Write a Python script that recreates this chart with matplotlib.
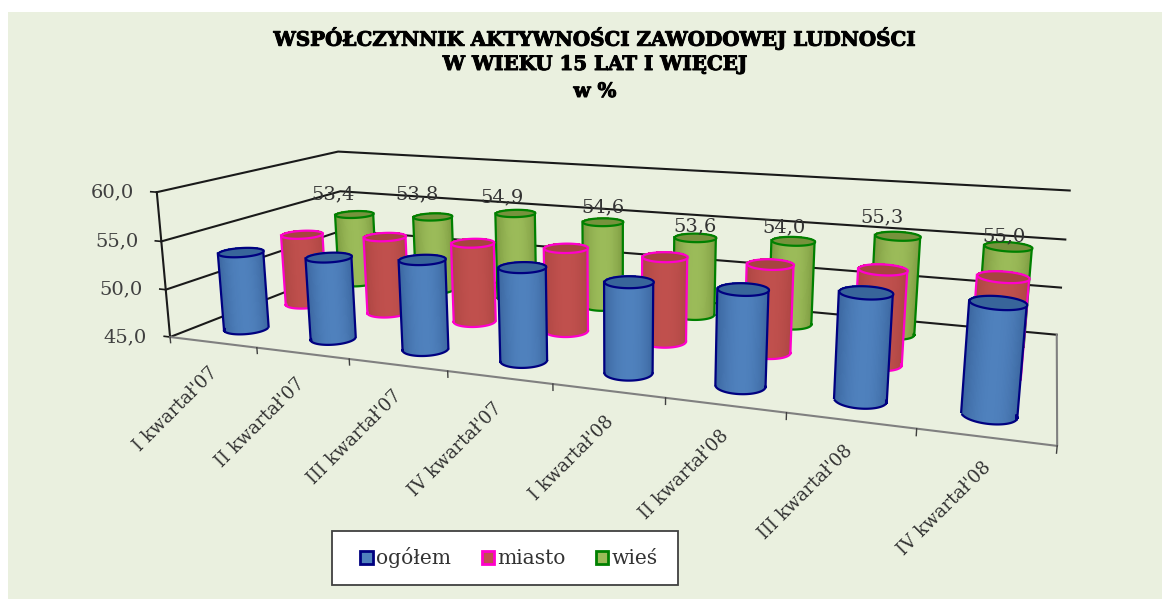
import matplotlib
matplotlib.use('Agg')
import matplotlib.pyplot as plt
import matplotlib.patheffects as pe
import numpy as np
from mpl_toolkits.mplot3d import proj3d
from mpl_toolkits.mplot3d.art3d import Poly3DCollection
from matplotlib.patches import Patch, Rectangle

categories = ["I kwartał'07", "II kwartał'07", "III kwartał'07", "IV kwartał'07",
              "I kwartał'08", "II kwartał'08", "III kwartał'08", "IV kwartał'08"]
series_names = ['ogółem', 'miasto', 'wieś']
ogolem = [53.2, 53.5, 54.1, 54.2, 53.7, 53.95, 54.6, 54.7]
miasto = [53.0, 53.5, 53.6, 53.85, 53.75, 53.85, 54.2, 54.4]
wies = [53.4, 53.8, 54.9, 54.6, 53.6, 54.0, 55.3, 55.0]
z_ticks = [45, 50, 55, 60]
# pixel nudges of the texts, the source placed them unevenly
value_dx = [-21, -15, -13, 0, 0, -9, -15, -4]
value_dy = [20, 22, 16, 14, 11, 13, 18, 10]
cat_dx = [2, -1, 1, 0, 3, 1, -1, 3]

W, H = 1162, 599
SERIF = 'DejaVu Serif'
fig = plt.figure(figsize=(W / 100, H / 100), dpi=100, facecolor='white')
fig.add_artist(Rectangle((8 / W, 0), 1, 1 - 12 / H, transform=fig.transFigure, fc='#EAF0DF', ec='none', zorder=-5))
ax = fig.add_axes([503.81 / W, 223.75 / H, 215.36 / W, 215.36 / H], projection='3d', computed_zorder=False)
ax.set_xlim(0, 8)
ax.set_ylim(0, 3)
ax.set_zlim(45, 60)
ax.set_proj_type('persp', focal_length=1)
ax.view_init(elev=13.2113, azim=-69.7426, roll=0.0441)
ax.set_box_aspect((1, 0.3762, 0.1763), zoom=4.11)
ax.set_axis_off()
ax.patch.set_visible(False)
M = ax.get_proj()


def line(xs, ys, zs, color='#1a1a1a', lw=1.5, z=1):
    ax.plot(xs, ys, zs, color=color, lw=lw, zorder=z, clip_on=False)


def label(x, y, z, s, dx, dy, **kw):
    u, v, _ = proj3d.proj_transform(x, y, z, M)
    ax.annotate(s, (u, v), xytext=(dx, dy), textcoords='offset pixels', annotation_clip=False, family=SERIF, **kw)


for v in z_ticks:
    line([0, 0, 8], [0, 3, 3], [v, v, v])
    line([0, -0.07], [0, 0], [v, v], lw=1.2)
    label(0, 0, v, f'{v:.1f}'.replace('.', ','), -23, 0, ha='right', va='center', fontsize=14, color='#404040')
line([0, 0], [0, 0], [45, 60])
line([0, 8, 8], [0, 0, 3], [45, 45, 45], color='#808080')
for k in range(9):
    line([k, k], [0, 0], [45, 44.4], color='#404040', lw=1)
for k, lab in enumerate(categories):
    label(k + 0.5, 0, 45, lab, cat_dx[k], -28, rotation=45, ha='right', va='center', rotation_mode='anchor', fontsize=13.1, color='#333333')

radius = 0.21
edge_w = 1.6
theta = np.linspace(0, 2 * np.pi, 121)
styles = [('#4F81BD', '#3A659E', '#000080', '#38659A'), ('#C0504D', '#AC4542', '#FF00CC', '#A64440'), ('#9BBB59', '#7B983F', '#008000', '#76923C')]
for j in (2, 1, 0):
    vals = [ogolem, miasto, wies][j]
    mid, dark, edge, cap = styles[j]
    midc = np.array(matplotlib.colors.to_rgb(mid))
    darkc = np.array(matplotlib.colors.to_rgb(dark))
    for i, val in enumerate(vals):
        zo = 10 + (2 - j) * 10 + i
        cxs = i + 0.5 + radius * np.cos(theta)
        cys = j + 0.5 + radius * np.sin(theta)
        base = np.full_like(cxs, 45.0)
        top = np.full_like(cxs, val)
        u, vv, _ = proj3d.proj_transform(cxs, cys, base, M)
        u = np.asarray(u)
        vv = np.asarray(vv)
        ut = np.asarray(proj3d.proj_transform(cxs, cys, top, M)[0])
        tt = (u - u.min()) / (u.max() - u.min())
        w = np.abs(2 * tt[:-1] - 1) ** 2
        cols = midc[None, :] * (1 - w[:, None]) + darkc[None, :] * w[:, None]
        ax.plot_surface(np.vstack([cxs, cxs]), np.vstack([cys, cys]), np.vstack([base, top]),
                        facecolors=cols[None, :, :], shade=False, rstride=1, cstride=1, linewidth=0,
                        antialiased=False, zorder=zo, clip_on=False)
        a, b = np.argmin(u), np.argmax(u)
        a2, b2 = np.argmin(ut), np.argmax(ut)
        # sides, from the widest point of the base to the widest point of the top
        line([cxs[a], cxs[a2]], [cys[a], cys[a2]], [45, val], color=edge, lw=edge_w, z=zo + 0.1)
        line([cxs[b], cxs[b2]], [cys[b], cys[b2]], [45, val], color=edge, lw=edge_w, z=zo + 0.1)
        # front half of the base
        front = vv[:-1] <= (vv[a] + vv[b]) / 2
        sel = np.where(front)[0]
        sel = sel[np.argsort(u[sel])]
        line(cxs[sel], cys[sel], base[sel], color=edge, lw=edge_w, z=zo + 0.1)
        poly = Poly3DCollection([list(zip(cxs, cys, top))], facecolor=cap, edgecolor=edge, linewidth=edge_w, zorder=zo + 0.2, clip_on=False)
        ax.add_collection3d(poly)

for i, val in enumerate(wies):
    label(i + 0.5, 2.5, val, f'{val:.1f}'.replace('.', ','), value_dx[i], value_dy[i], ha='center', va='center', fontsize=14, color='#333333', zorder=60)

heavy = [pe.withStroke(linewidth=0.7, foreground='black')]
fig.text(595 / W, 1 - 38 / H, 'WSPÓŁCZYNNIK AKTYWNOŚCI ZAWODOWEJ LUDNOŚCI', ha='center', va='center', family=SERIF, weight='bold', fontsize=14.3, path_effects=heavy)
fig.text(595 / W, 1 - 64 / H, 'W WIEKU 15 LAT I WIĘCEJ', ha='center', va='center', family=SERIF, weight='bold', fontsize=14.3, path_effects=heavy)
fig.text(595 / W, 1 - 91 / H, 'w %', ha='center', va='center', family=SERIF, weight='bold', fontsize=14.3, path_effects=heavy)

fig.add_artist(Rectangle((332 / W, 1 - 585 / H), 346 / W, 54 / H, transform=fig.transFigure, fc='white', ec='#404040', lw=1.3, zorder=4))
handles = [Patch(facecolor=s[0], edgecolor=s[2], linewidth=2) for s in styles]
fig.legend(handles, series_names, ncol=3, loc='center', bbox_to_anchor=(509 / W, 1 - 558 / H), prop={'family': SERIF, 'size': 14.6},
           labelcolor='#333333', frameon=False, handlelength=0.6, handleheight=0.6,
           handletextpad=0.15, columnspacing=1.53, borderpad=0, borderaxespad=0)

fig.savefig('out.png', dpi=100)
